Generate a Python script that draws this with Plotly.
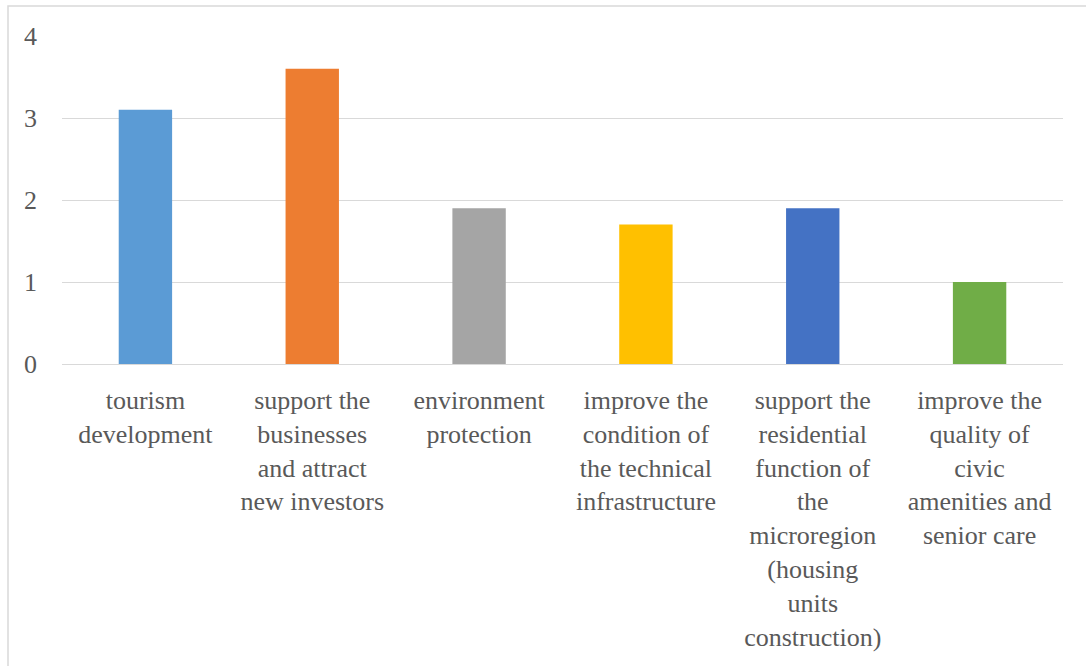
import plotly.graph_objects as go

categories = [
    "tourism<br>development",
    "support the<br>businesses<br>and attract<br>new investors",
    "environment<br>protection",
    "improve the<br>condition of<br>the technical<br>infrastructure",
    "support the<br>residential<br>function of<br>the<br>microregion<br>(housing<br>units<br>construction)",
    "improve the<br>quality of<br>civic<br>amenities and<br>senior care",
]
values = [3.1, 3.6, 1.9, 1.7, 1.9, 1.0]
colors = ["#5B9BD5", "#ED7D31", "#A5A5A5", "#FFC000", "#4472C4", "#70AD47"]
y_ticks = [0, 1, 2, 3, 4]

W, H = 1086, 666
L, T = 62, 36
R = W - 1063
B = H - 364
pw, ph = W - L - R, H - T - B

def px_x(px):
    return (px - L) / pw

def px_y(py):
    return (H - B - py) / ph

fig = go.Figure(go.Bar(x=categories, y=values, marker=dict(color=colors, line=dict(width=0)),
                       showlegend=False, hoverinfo="skip"))

font = dict(family="Liberation Serif", size=26, color="#595959")

fig.update_layout(
    width=W, height=H,
    margin=dict(l=L, r=R, t=T, b=B),
    paper_bgcolor="white", plot_bgcolor="white",
    bargap=0.68,
    font=font,
    xaxis=dict(showgrid=False, showline=False, ticks="", tickfont=font, tickangle=0,
               ticklabelstandoff=18, automargin=False),
    yaxis=dict(range=[0, 4], tickvals=y_ticks, showgrid=True, gridcolor="#D9D9D9", gridwidth=1,
               zeroline=True, zerolinecolor="#D9D9D9", zerolinewidth=1, showline=False,
               ticks="", tickfont=font, ticklabelstandoff=24, automargin=False),
    shapes=[dict(type="rect", xref="paper", yref="paper",
                 x0=px_x(8), x1=px_x(1106), y0=px_y(690), y1=px_y(6),
                 line=dict(color="#D9D9D9", width=1.5), fillcolor="rgba(0,0,0,0)", layer="below")],
)

fig.write_html("out.html", config={"displayModeBar": False},
               post_script="document.body.style.margin='0px';")
